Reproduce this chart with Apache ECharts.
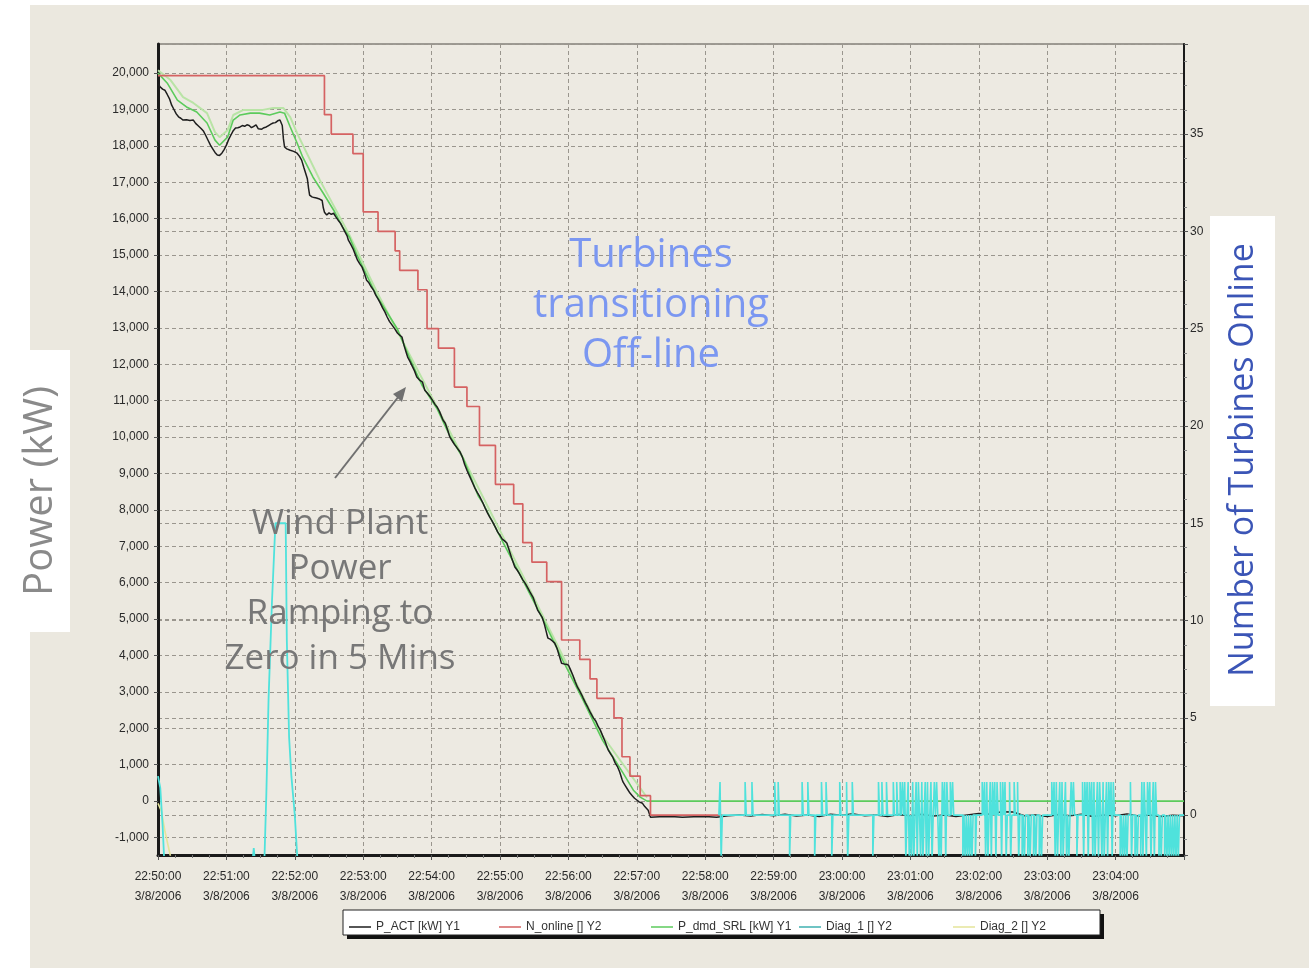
<!DOCTYPE html>
<html><head><meta charset="utf-8">
<script src="https://cdn.jsdelivr.net/npm/echarts@6/dist/echarts.min.js"></script>
<style>html,body{margin:0;padding:0;background:#fff;}#c{width:1314px;height:972px;}</style>
</head><body><div id="c"></div>
<script>
// ---- tick labels ----
const xTimeLabels = ['22:50:00','22:51:00','22:52:00','22:53:00','22:54:00','22:55:00','22:56:00','22:57:00','22:58:00','22:59:00','23:00:00','23:01:00','23:02:00','23:03:00','23:04:00'];
const dateLabel = '3/8/2006';
const legendNames = ['P_ACT [kW] Y1','N_online [] Y2','P_dmd_SRL [kW] Y1','Diag_1 [] Y2','Diag_2 [] Y2'];

// ---- series values: [seconds after 22:50:00, value] ----
const pActData = [[0,19700],[2,19620],[4,19560],[6,19530],[8,19420],[10,19300],[12,19120],[14,19000],[16,18880],[18,18800],[20,18760],[22,18710],[25,18720],[28,18700],[31,18710],[33,18620],[35,18560],[38,18470],[40,18400],[42,18280],[44,18150],[46,18020],[48,17920],[50,17820],[52,17750],[54,17740],[56,17800],[58,17900],[60,18020],[62,18180],[64,18300],[66,18420],[68,18490],[70,18500],[72,18520],[74,18560],[76,18540],[78,18580],[80,18560],[82,18500],[84,18540],[86,18580],[88,18470],[89,18430],[91,18460],[93,18500],[95,18520],[97,18560],[99,18600],[101,18630],[103,18640],[105,18690],[107,18710],[108,18660],[109,18560],[110,18200],[111,17970],[113,17920],[116,17880],[119,17850],[122,17800],[124,17720],[126,17610],[128,17400],[130,17200],[131,17100],[132,16850],[133,16650],[135,16600],[137,16580],[139,16570],[141,16550],[144,16500],[145,16300],[146,16180],[148,16100],[150,16160],[152,16120],[154,16150],[156,16050],[158,15960],[160,15880],[162,15760],[164,15640],[166,15520],[167,15410],[169,15300],[171,15180],[173,15020],[175,14860],[177,14760],[179,14670],[181,14500],[183,14310],[185,14240],[187,14130],[189,14040],[191,13900],[193,13800],[195,13680],[197,13550],[199,13440],[201,13300],[203,13180],[204,13130],[206,13050],[208,12960],[210,12860],[212,12800],[214,12750],[216,12500],[218,12300],[219,12200],[221,12080],[223,11950],[225,11820],[227,11650],[229,11580],[232,11510],[234,11290],[236,11220],[239,11100],[241,11000],[243,10900],[245,10820],[247,10700],[250,10470],[252,10380],[254,10200],[256,10000],[258,9900],[260,9800],[262,9720],[265,9590],[267,9450],[269,9250],[271,9090],[273,8950],[276,8740],[278,8600],[280,8480],[282,8380],[285,8190],[287,8050],[289,7920],[291,7800],[293,7700],[296,7520],[298,7390],[300,7300],[302,7200],[304,7150],[306,7090],[308,6900],[310,6700],[313,6430],[315,6350],[317,6250],[320,6080],[322,5990],[324,5880],[326,5760],[329,5600],[331,5420],[333,5250],[335,5150],[337,5050],[339,4850],[341,4600],[342,4480],[344,4450],[346,4400],[348,4340],[350,4200],[352,3990],[354,3790],[356,3770],[358,3760],[360,3740],[362,3600],[364,3450],[366,3280],[368,3130],[370,3020],[372,2900],[373,2830],[375,2700],[377,2580],[379,2450],[382,2280],[384,2200],[386,2060],[388,1950],[390,1800],[392,1650],[395,1400],[397,1300],[399,1200],[401,1050],[403,950],[405,800],[407,600],[408,520],[410,420],[412,320],[414,220],[416,150],[418,80],[420,30],[422,-20],[425,-60],[427,-150],[430,-250],[432,-440],[440,-430],[450,-420],[460,-440],[470,-430],[480,-420],[490,-440],[500,-400],[510,-380],[520,-410],[530,-370],[540,-400],[550,-360],[560,-410],[570,-380],[580,-420],[590,-360],[600,-390],[610,-350],[620,-400],[630,-380],[640,-420],[650,-370],[660,-400],[670,-360],[680,-410],[690,-380],[700,-420],[710,-380],[720,-340],[730,-360],[740,-290],[750,-300],[760,-400],[770,-380],[780,-420],[790,-370],[800,-400],[810,-360],[820,-420],[830,-380],[840,-400],[850,-350],[860,-410],[870,-380],[880,-420],[890,-390],[900,-400]];

const nOnlineData = [[0,38],[146,36],[152,35],[171,34],[180,31],[193,30],[208,29],[212,28],[228,27],[236,25],[246,24],[260,22],[271,21],[282,19],[296,17],[312,16],[320,14],[328,13],[341,12],[354,9],[370,8],[379,7],[385,6],[400,5],[407,3],[414,2],[423,1],[432,0],[495,0]];

const pDmdData = [[0,20000],[8,19730],[17,19260],[25,19070],[34,18930],[43,18630],[50,18160],[54,18020],[61,18240],[66,18710],[72,18850],[81,18900],[89,18900],[98,18850],[107,18930],[111,18900],[116,18520],[122,18080],[127,17690],[136,17140],[145,16700],[154,16240],[162,15770],[168,15490],[175,14970],[192,13870],[210,12970],[221,12150],[232,11400],[245,10770],[256,10030],[268,9400],[281,8380],[285,8190],[303,7090],[320,6070],[338,4970],[355,3870],[373,2770],[390,1670],[408,770],[417,300],[423,110],[429,0],[900,0]];

const pDmdUpperData = [[0,20080],[11,19810],[22,19340],[31,19180],[43,18900],[50,18380],[54,18240],[61,18430],[66,18850],[75,18990],[92,18990],[101,19040],[110,19040],[116,18790],[122,18350],[142,17060],[168,15550],[192,13990],[256,10150],[320,6190],[390,1790],[429,100]];

const diag1PeakData = [[0,2.0],[2,1.4],[4,-0.5],[6,-3],[82,-3],[84,-1.7],[86,-3],[93,-3],[95,1],[97,6],[100,11],[103,15],[112,15],[113,9],[115,4],[117,2],[120,0],[123,-3],[492,-3]];

const diag1TailData = [[492,0],[493,1.7],[494,-2.3],[495,0],[515,1.7],[516,0],[521,1.7],[522,0],[541,1.7],[542,0],[544,1.7],[545,0],[554,-2.3],[555,0],[565,1.7],[566,0],[570,1.7],[571,0],[576,-2.3],[577,0],[582,1.7],[583,0],[586,1.7],[587,0],[591,-2.3],[592,0],[598,1.7],[599,0],[604,1.7],[605,-2.3],[606,0],[609,1.7],[610,0],[627,-2.3],[628,0],[632,1.7],[633,0],[635,1.7],[636,0],[639,1.7],[640,0],
[645,1.7],[646,0],[648,1.7],[649,0],[651,1.7],[652,0],[653,1.7],[654,0],[655,1.7],[656,-2.3],[657,0],[658,1.7],[659,-2.3],[660,0],[661,-2.3],[662,1.7],[663,-2.3],[664,0],[665,1.7],[666,-2.3],[667,1.7],[668,0],[669,-2.3],[670,1.7],[671,-2.3],[672,0],[673,1.7],[674,-2.3],[675,1.7],[676,-2.3],[677,0],[678,1.7],[679,-2.3],[680,0],[681,1.7],[682,0],[683,1.7],[684,0],[685,-2.3],[686,0],[687,-2.3],[688,1.7],[689,0],[690,1.7],[691,-2.3],[692,1.7],[693,0],[695,1.7],[696,0],[697,1.7],[698,0],
[706,-2.3],[707,0],[708,-2.3],[709,0],[710,-2.3],[711,0],[712,-2.3],[713,0],[714,-2.3],[715,0],[717,-2.3],[718,0],
[723,1.7],[724,0],[725,1.7],[726,-2.3],[727,1.7],[728,-2.3],[729,0],[730,1.7],[731,-2.3],[732,1.7],[733,0],[734,1.7],[735,-2.3],[736,1.7],[737,0],[739,1.7],[740,-2.3],[741,1.7],[742,0],[743,1.7],[744,-2.3],[745,0],[747,1.7],[748,-2.3],[749,0],[751,1.7],[752,0],[754,1.7],[755,-2.3],[756,0],
[758,-2.3],[759,0],[760,-2.3],[761,0],[763,-2.3],[764,0],[765,-2.3],[766,0],[768,-2.3],[769,0],[770,-2.3],[771,0],[773,-2.3],[774,0],[775,-2.3],[776,0],
[784,1.7],[785,0],[786,1.7],[787,-2.3],[788,1.7],[789,-2.3],[790,0],[791,1.7],[792,-2.3],[793,1.7],[794,-2.3],[795,0],[796,1.7],[797,-2.3],[798,0],[799,-2.3],[800,0],[801,1.7],[802,0],[803,1.7],[804,0],[806,-2.3],[807,0],
[811,1.7],[812,-2.3],[813,1.7],[814,0],[815,1.7],[816,-2.3],[817,1.7],[818,0],[819,1.7],[820,-2.3],[821,1.7],[822,-2.3],[823,0],[824,1.7],[825,-2.3],[826,1.7],[827,0],[828,-2.3],[829,1.7],[830,-2.3],[831,0],[832,1.7],[833,-2.3],[834,1.7],[835,0],[836,1.7],[837,-2.3],[838,1.7],[839,0],
[844,-2.3],[845,0],[846,-2.3],[847,0],[848,-2.3],[849,0],[850,-2.3],[851,0],[853,1.7],[854,-2.3],[855,0],[857,-2.3],[858,0],[859,-2.3],[860,0],[862,-2.3],[863,1.7],[864,-2.3],[865,1.7],[866,0],[867,-2.3],[868,1.7],[869,0],[870,1.7],[871,-2.3],[872,0],[873,1.7],[874,-2.3],[875,1.7],[876,0],[878,-2.3],[879,0],[880,-2.3],[881,0],[883,-2.3],[884,0],[885,-2.3],[886,0],[887,-2.3],[888,0],[889,-2.3],[890,0],[891,-2.3],[892,0],[893,-2.3],[894,0],[895,-2.3],[896,0],[900,0]];

const diag2Data = [[0,0.6],[3,0.2],[6,-0.8],[9,-1.6],[12,-2.4],[900,-2.4]];

// ---- colours ----
const C = {black:'#1e1e1e', red:'#d56262', green:'#5ccb5c', greenLight:'#b9e4a6', cyan:'#4fe2dc', yellow:'#e4e49a'};

const chart = echarts.init(document.getElementById('c'), null, {renderer:'canvas'});
const labelFont = "'Liberation Sans Narrow','Liberation Sans',Arial,sans-serif";
const annFont = "'Open Sans',sans-serif";
const grid = {left:158, top:44, width:1026, height:811};

function legendItem(name, left){
  return {show:true, data:[name], left:left, top:921, orient:'horizontal', padding:0,
    icon:'rect', itemWidth:22, itemHeight:1.5, itemGap:4, selectedMode:false,
    textStyle:{fontSize:12, color:'#333', fontFamily:labelFont, padding:[0,0,0,0]}};
}

const option = {
  backgroundColor:'#ebe8df',
  animation:false,
  grid:{left:grid.left, top:grid.top, width:grid.width, height:grid.height, show:true,
        backgroundColor:'#edeae2', borderColor:'#9d9a93', borderWidth:2, z:0},
  legend:[
    legendItem(legendNames[0], 349),
    legendItem(legendNames[1], 499),
    legendItem(legendNames[2], 651),
    legendItem(legendNames[3], 799),
    legendItem(legendNames[4], 953)
  ],
  xAxis:{type:'value', min:0, max:900, interval:60,
    axisLine:{show:true, onZero:false, lineStyle:{color:'#1a1a1a', width:3}},
    axisTick:{show:true, length:5, lineStyle:{color:'#555'}},
    minorTick:{show:true, splitNumber:4, length:3, lineStyle:{color:'#777'}},
    splitLine:{show:true, lineStyle:{color:'#9a968e', type:[4,3], width:1}},
    axisLabel:{margin:12, lineHeight:20, fontSize:12, color:'#2a2a2a', fontFamily:labelFont, showMaxLabel:false,
      formatter:(v)=>{const i=Math.round(v/60); return xTimeLabels[i]!==undefined ? xTimeLabels[i]+'\n'+dateLabel : '';}}
  },
  yAxis:[
    {type:'value', min:-1480, max:20800, splitNumber:22, position:'left',
     axisLine:{show:true, lineStyle:{color:'#1a1a1a', width:3}},
     axisTick:{show:true, length:4, lineStyle:{color:'#555'}},
     splitLine:{show:true, lineStyle:{color:'#9a968e', type:[4,3], width:1}},
     axisLabel:{margin:9, fontSize:12, color:'#2a2a2a', fontFamily:labelFont, showMinLabel:false, showMaxLabel:false,
       formatter:(v)=> (Math.abs(v % 1000) < 1e-6 ? v.toLocaleString('en-US') : '')}
    },
    {type:'value', min:-2.05, max:39.63, splitNumber:8, position:'right',
     axisLine:{show:true, lineStyle:{color:'#1a1a1a', width:2}},
     axisTick:{show:true, length:4, lineStyle:{color:'#555'}},
     minorTick:{show:true, splitNumber:4, length:3, lineStyle:{color:'#888'}},
     splitLine:{show:true, lineStyle:{color:'#9a968e', type:[4,3], width:1}},
     axisLabel:{margin:6, fontSize:12, color:'#2a2a2a', fontFamily:labelFont, showMinLabel:false, showMaxLabel:false,
       formatter:(v)=> (Math.abs(v % 5) < 1e-6 ? String(v) : '')}
    }
  ],
  series:[
    {name:'P_dmd_SRL upper', type:'line', yAxisIndex:0, data:pDmdUpperData, showSymbol:false, silent:true,
     lineStyle:{color:C.greenLight, width:2}, z:2},
    {name:legendNames[2], type:'line', yAxisIndex:0, data:pDmdData, showSymbol:false,
     itemStyle:{color:C.green}, lineStyle:{color:C.green, width:1.6}, z:3},
    {name:legendNames[4], type:'line', yAxisIndex:1, data:diag2Data, showSymbol:false,
     itemStyle:{color:C.yellow}, lineStyle:{color:C.yellow, width:1.6}, z:3},
    {name:legendNames[0], type:'line', yAxisIndex:0, data:pActData, showSymbol:false,
     itemStyle:{color:C.black}, lineStyle:{color:C.black, width:1.5}, z:4},
    {name:legendNames[1], type:'line', yAxisIndex:1, data:nOnlineData, step:'end', showSymbol:false,
     itemStyle:{color:C.red}, lineStyle:{color:C.red, width:1.7}, z:5},
    {name:legendNames[3], type:'line', yAxisIndex:1, data:diag1PeakData, showSymbol:false,
     itemStyle:{color:'#3fb0b0'}, lineStyle:{color:C.cyan, width:1.8}, z:6},
    {name:legendNames[3], type:'line', yAxisIndex:1, data:diag1TailData, step:'end', showSymbol:false,
     itemStyle:{color:'#3fb0b0'}, lineStyle:{color:C.cyan, width:1.6}, z:6}
  ],
  graphic:{elements:[
    {type:'rect', shape:{x:0,y:0,width:30,height:972}, style:{fill:'#ffffff'}, z:-1, silent:true},
    {type:'rect', shape:{x:0,y:0,width:1314,height:5}, style:{fill:'#ffffff'}, z:-1, silent:true},
    {type:'rect', shape:{x:1309,y:0,width:5,height:972}, style:{fill:'#ffffff'}, z:-1, silent:true},
    {type:'rect', shape:{x:0,y:968,width:1314,height:4}, style:{fill:'#ffffff'}, z:-1, silent:true},
    // legend box with shadow
    {type:'rect', shape:{x:347,y:914,width:757,height:25}, style:{fill:'#111'}, z:1, silent:true},
    {type:'rect', shape:{x:343,y:910,width:757,height:25}, style:{fill:'#ffffff', stroke:'#222', lineWidth:1}, z:1, silent:true},
    // axis title boxes
    {type:'rect', shape:{x:12,y:350,width:58,height:282}, style:{fill:'#ffffff'}, z:10, silent:true},
    {type:'text', x:41, y:491, rotation:Math.PI/2, z:11, silent:true,
     style:{text:'Power (kW)', fontSize:40, fontFamily:annFont, fill:'#8a8a8a', align:'center', verticalAlign:'middle'}},
    {type:'rect', shape:{x:1210,y:216,width:65,height:490}, style:{fill:'#ffffff'}, z:10, silent:true},
    {type:'text', x:1243, y:460, rotation:Math.PI/2, z:11, silent:true,
     style:{text:'Number of Turbines Online', fontSize:34, fontFamily:annFont, fill:'#3b55b6', align:'center', verticalAlign:'middle'}},
    // annotations
    {type:'text', x:651, y:306, z:11, silent:true,
     style:{text:'Turbines\ntransitioning\nOff-line', fontSize:40, lineHeight:50, fontFamily:annFont, fill:'#7b97f1', align:'center', verticalAlign:'middle'}},
    {type:'text', x:340, y:592, z:11, silent:true,
     style:{text:'Wind Plant\nPower\nRamping to\nZero in 5 Mins', fontSize:35, lineHeight:45, fontFamily:annFont, fill:'#777777', align:'center', verticalAlign:'middle'}},
    {type:'line', shape:{x1:335,y1:478,x2:399,y2:396}, style:{stroke:'#707070', lineWidth:2}, z:11, silent:true},
    {type:'polygon', shape:{points:[[406,387],[402,402],[393,394]]}, style:{fill:'#707070'}, z:11, silent:true}
  ]}
};
chart.setOption(option);
</script></body></html>
